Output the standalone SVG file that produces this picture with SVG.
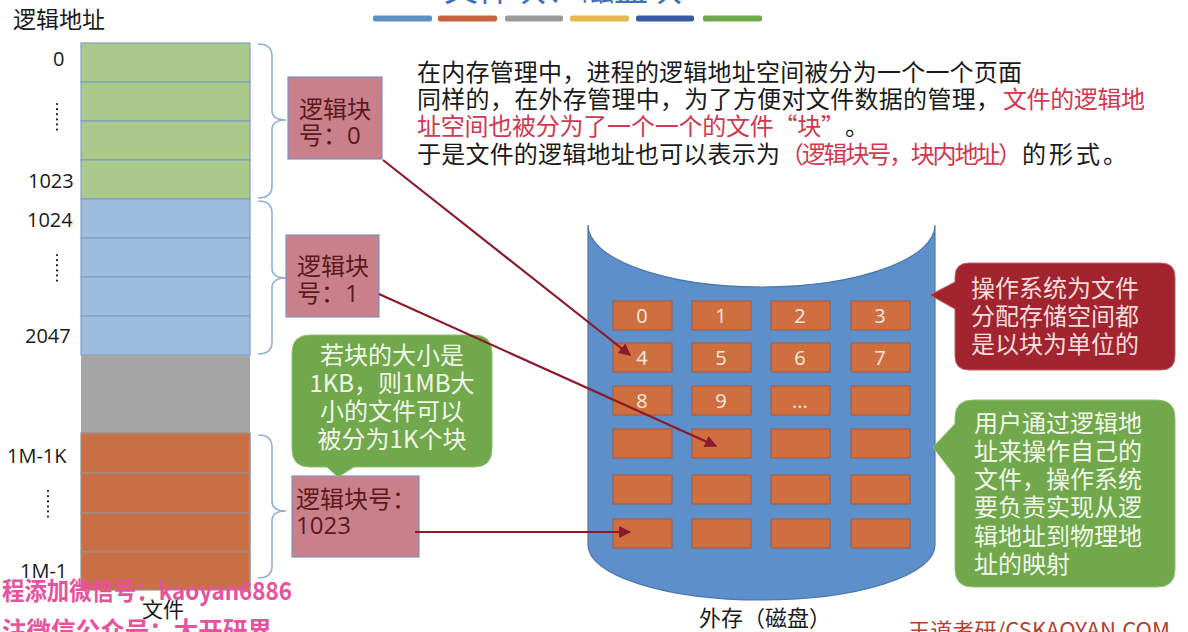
<svg xmlns="http://www.w3.org/2000/svg" width="1188" height="632" viewBox="0 0 1188 632">
<defs>
<style>
.cjk{font-family:"Noto Sans CJK SC",sans-serif}
.num{font-family:"Open Sans","Liberation Sans","Noto Sans CJK SC",sans-serif}
.lbl{font-size:20px;fill:#1a1a1a}
.para{font-size:24px;fill:#1a1a1a}
.red{fill:#d2374f}
.cell{stroke:#7f9fc8;stroke-width:1.2}
.g{fill:#abc98b}.b{fill:#9ebcdd}.o{fill:#c96f45;stroke:#9a8f8c}
.brace{fill:none;stroke:#8fb0d8;stroke-width:1.6}
.lb{fill:#c9808a;stroke:#7f93bd;stroke-width:1.2}
.lbt{font-size:24px;fill:#5a1a1a}
.blk{fill:#cf6e3f;stroke:#a9583a;stroke-width:1}
.bt{font-size:20px;fill:#f6ebe4;text-anchor:middle}
.conn{stroke:#8b1a2a;stroke-width:2.2;fill:none;marker-end:url(#ah)}
.ct{font-size:24px}
.wm{font-size:25px;fill:#e8529c;font-weight:bold}
</style>
<marker id="ah" viewBox="0 0 10 10" refX="9" refY="5" markerWidth="5.5" markerHeight="5.5" orient="auto" markerUnits="strokeWidth">
<path d="M0,0 L10,5 L0,10 Z" fill="#8b1a2a"/>
</marker>
</defs>
<rect width="1188" height="632" fill="#ffffff"/>

<g id="title">
<text class="cjk" x="563" y="1" font-size="34" fill="#3b6fb8" text-anchor="middle">文件块、磁盘块</text>
<rect x="373" y="15.5" width="59" height="6" rx="2" fill="#5b8fc7"/>
<rect x="438" y="15.5" width="59" height="6" rx="2" fill="#c8643c"/>
<rect x="505" y="15.5" width="58" height="6" rx="2" fill="#9a9a9a"/>
<rect x="570" y="15.5" width="59" height="6" rx="2" fill="#e7b84c"/>
<rect x="636" y="15.5" width="58" height="6" rx="2" fill="#3a5aa8"/>
<rect x="703" y="15.5" width="59" height="6" rx="2" fill="#6fa84a"/>
</g>

<g id="logical-address-column">
<text class="cjk" x="13" y="28" font-size="23" fill="#1a1a1a">逻辑地址</text>
<rect class="cell g" x="81" y="43" width="169" height="39"/>
<rect class="cell g" x="81" y="82" width="169" height="39"/>
<rect class="cell g" x="81" y="121" width="169" height="39"/>
<rect class="cell g" x="81" y="160" width="169" height="39"/>
<rect class="cell b" x="81" y="199" width="169" height="39"/>
<rect class="cell b" x="81" y="238" width="169" height="39"/>
<rect class="cell b" x="81" y="277" width="169" height="39"/>
<rect class="cell b" x="81" y="316" width="169" height="39"/>
<rect x="81" y="355" width="169" height="78" fill="#a5a5a5"/>
<rect class="cell o" x="81" y="433" width="169" height="40"/>
<rect class="cell o" x="81" y="473" width="169" height="40"/>
<rect class="cell o" x="81" y="513" width="169" height="39"/>
<rect class="cell o" x="81" y="552" width="169" height="38"/>
<line x1="250" y1="433" x2="250" y2="590" stroke="#7f9fc8" stroke-width="1.2"/>
<text class="num lbl" x="53" y="66">0</text>
<text class="num lbl" x="28" y="188">1023</text>
<text class="num lbl" x="27" y="227">1024</text>
<text class="num lbl" x="25" y="343">2047</text>
<text class="num lbl" x="7" y="463">1M-1K</text>
<text class="num lbl" x="20" y="578">1M-1</text>
<line x1="57" y1="104" x2="57" y2="134" stroke="#222" stroke-width="2.2" stroke-dasharray="0.1,5" stroke-linecap="round"/>
<line x1="57" y1="255" x2="57" y2="285" stroke="#222" stroke-width="2.2" stroke-dasharray="0.1,5" stroke-linecap="round"/>
<line x1="48" y1="491" x2="48" y2="521" stroke="#222" stroke-width="2.2" stroke-dasharray="0.1,5" stroke-linecap="round"/>
<text class="cjk" x="142" y="617" font-size="21" fill="#1a1a1a">文件</text>
</g>

<g id="braces">
<path class="brace" d="M258,44 Q272,44 272,56 V110 Q272,120 286,120 Q272,120 272,130 V186 Q272,198 258,198"/>
<path class="brace" d="M258,201 Q272,201 272,213 V268 Q272,278 286,278 Q272,278 272,288 V342 Q272,354 258,354"/>
<path class="brace" d="M258,435 Q272,435 272,447 V501 Q272,511 286,511 Q272,511 272,521 V566 Q272,578 258,578"/>
</g>

<g id="paragraph" class="cjk para">
<text x="417" y="81" textLength="605" lengthAdjust="spacing">在内存管理中，进程的逻辑地址空间被分为一个一个页面</text>
<text x="417" y="108" textLength="583" lengthAdjust="spacing">同样的，在外存管理中，为了方便对文件数据的管理，</text>
<text class="red" x="1003" y="108" textLength="142" lengthAdjust="spacing">文件的逻辑地</text>
<text class="red" x="417" y="135" textLength="428" lengthAdjust="spacing">址空间也被分为了一个一个的文件“块”</text>
<text x="845" y="135">。</text>
<text x="417" y="163" textLength="363" lengthAdjust="spacing">于是文件的逻辑地址也可以表示为</text>
<text class="red" x="780" y="163" textLength="242" lengthAdjust="spacing">（逻辑块号，块内地址）</text>
<text x="1022" y="163" textLength="105" lengthAdjust="spacing">的形式。</text>
</g>

<g id="block0">
<rect class="lb" x="288" y="77" width="94" height="82"/>
<text class="cjk lbt" x="299" y="118">逻辑块</text>
<text class="cjk lbt" x="299" y="144">号：<tspan class="num">0</tspan></text>
</g>
<g id="block1">
<rect class="lb" x="286" y="235" width="93" height="82"/>
<text class="cjk lbt" x="297" y="275">逻辑块</text>
<text class="cjk lbt" x="297" y="302">号：<tspan class="num">1</tspan></text>
</g>
<g id="block1023">
<rect class="lb" x="292" y="476" width="127" height="81"/>
<text class="cjk lbt" x="296" y="508">逻辑块号：</text>
<text class="num lbt" x="296" y="534">1023</text>
</g>

<g id="note-size">
<path d="M310,335 H474 Q492,335 492,353 V449 Q492,467 474,467 H354 L338,477 L327,467 H310 Q292,467 292,449 V353 Q292,335 310,335 Z" fill="#71a84c" stroke="#8fbf6e" stroke-width="1"/>
<g class="cjk ct" fill="#f1f7ea" text-anchor="middle">
<text x="392" y="364">若块的大小是</text>
<text x="392" y="392">1KB，则1MB大</text>
<text x="392" y="420">小的文件可以</text>
<text x="392" y="448">被分为1K个块</text>
</g>
</g>

<g id="disk">
<path d="M588,225 A173.5,62 0 0 0 935,225 L935,545 A173.5,55 0 0 1 588,545 Z" fill="#5d8fca" stroke="#4b78ad" stroke-width="1.2"/>
<g>
<rect class="blk" x="613" y="301" width="59" height="29"/><rect class="blk" x="692" y="301" width="59" height="29"/><rect class="blk" x="771" y="301" width="59" height="29"/><rect class="blk" x="851" y="301" width="59" height="29"/>
<rect class="blk" x="613" y="343" width="59" height="29"/><rect class="blk" x="692" y="343" width="59" height="29"/><rect class="blk" x="771" y="343" width="59" height="29"/><rect class="blk" x="851" y="343" width="59" height="29"/>
<rect class="blk" x="613" y="386" width="59" height="29"/><rect class="blk" x="692" y="386" width="59" height="29"/><rect class="blk" x="771" y="386" width="59" height="29"/><rect class="blk" x="851" y="386" width="59" height="29"/>
<rect class="blk" x="613" y="429" width="59" height="29"/><rect class="blk" x="692" y="429" width="59" height="29"/><rect class="blk" x="771" y="429" width="59" height="29"/><rect class="blk" x="851" y="429" width="59" height="29"/>
<rect class="blk" x="613" y="475" width="59" height="29"/><rect class="blk" x="692" y="475" width="59" height="29"/><rect class="blk" x="771" y="475" width="59" height="29"/><rect class="blk" x="851" y="475" width="59" height="29"/>
<rect class="blk" x="613" y="519" width="59" height="29"/><rect class="blk" x="692" y="519" width="59" height="29"/><rect class="blk" x="771" y="519" width="59" height="29"/><rect class="blk" x="851" y="519" width="59" height="29"/>
</g>
<g class="num bt">
<text x="642" y="323">0</text><text x="721" y="323">1</text><text x="800" y="323">2</text><text x="880" y="323">3</text>
<text x="642" y="365">4</text><text x="721" y="365">5</text><text x="800" y="365">6</text><text x="880" y="365">7</text>
<text x="642" y="408">8</text><text x="721" y="408">9</text><text x="800" y="408">...</text>
</g>
<text class="cjk" x="765" y="626" font-size="22" fill="#1a1a1a" text-anchor="middle">外存（磁盘）</text>
</g>

<g id="note-os">
<path d="M969,263 H1161 Q1175,263 1175,277 V356 Q1175,370 1161,370 H969 Q955,370 955,356 V309 L930,295 L955,282 V277 Q955,263 969,263 Z" fill="#a2242f" stroke="#c0606a" stroke-width="1"/>
<g class="cjk ct" fill="#f6dede">
<text x="971" y="297">操作系统为文件</text>
<text x="971" y="325">分配存储空间都</text>
<text x="971" y="353">是以块为单位的</text>
</g>
</g>

<g id="note-user">
<path d="M973,400 H1157 Q1175,400 1175,418 V569 Q1175,587 1157,587 H973 Q955,587 955,569 V476 L933,447 L955,424 V418 Q955,400 973,400 Z" fill="#71a84c" stroke="#8fbf6e" stroke-width="1"/>
<g class="cjk ct" fill="#f1f7ea">
<text x="974" y="432">用户通过逻辑地</text>
<text x="974" y="460">址来操作自己的</text>
<text x="974" y="488">文件，操作系统</text>
<text x="974" y="516">要负责实现从逻</text>
<text x="974" y="545">辑地址到物理地</text>
<text x="974" y="573">址的映射</text>
</g>
</g>

<g id="connectors">
<path class="conn" d="M383,160 L630,355"/>
<path class="conn" d="M379,294 L716,446"/>
<path class="conn" d="M415,532 L630,532"/>
</g>

<g id="watermarks">
<text class="cjk wm" x="2" y="600" textLength="290" lengthAdjust="spacingAndGlyphs">程添加微信号：kaoyan6886</text>
<text class="cjk wm" x="2" y="640" textLength="270" lengthAdjust="spacingAndGlyphs">注微信公众号：大开研界</text>
<text class="cjk" x="908" y="638" font-size="21" fill="#b3402f" textLength="262" lengthAdjust="spacingAndGlyphs">王道考研/CSKAOYAN.COM</text>
</g>
</svg>
